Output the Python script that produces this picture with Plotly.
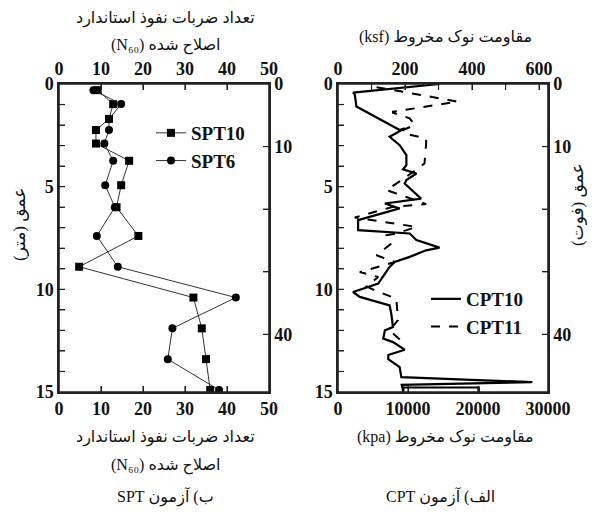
import plotly.graph_objects as go

# ---------------- data ----------------
spt_depth_m = [0.3, 0.98, 1.7, 2.24, 2.9, 3.74, 4.93, 6.0, 7.4, 8.9, 10.4, 11.9, 13.4, 14.9]
spt10_n60 = [9.2, 12.9, 11.9, 8.8, 8.8, 16.7, 14.8, 13.7, 18.9, 4.8, 32.0, 34.0, 35.0, 36.0]
spt6_n60 = [8.2, 14.8, 11.9, 11.9, 10.8, 12.9, 11.0, 13.3, 9.0, 14.0, 42.1, 27.0, 25.9, 38.1]

cpt10_depth_m = [0, 0.42, 0.5, 1.1, 2.24, 2.16, 2.57, 2.98, 3.46, 3.95, 4.16, 4.36, 4.68, 4.85,
                 5.58, 5.82, 6.06, 6.63, 7.12, 7.2, 7.28, 7.6, 7.97, 8.1, 8.42, 8.67, 8.91, 9.48,
                 9.72, 10.13, 10.37, 10.78, 11.19, 11.84, 12.0, 12.4, 12.57, 12.94, 13.2, 13.4,
                 13.79, 14.28, 14.52, 14.65, 15.0, 14.78, 14.78, 15.0]
cpt10_qc_ksf = [303, 45, 50, 55, 184, 199, 154, 184, 204, 204, 194, 234, 204, 199,
                248, 140, 184, 60, 60, 145, 214, 234, 303, 263, 214, 169, 154, 130,
                120, 45, 65, 154, 159, 164, 140, 135, 164, 199, 150, 150,
                184, 189, 580, 190, 195, 195, 420, 420]

cpt11_depth_m = [0.16, 0.29, 0.86, 1.35, 1.4, 1.67, 2.0, 2.24, 2.4, 2.65, 2.9, 3.87, 4.52, 5.17,
                 5.5, 5.85, 5.98, 6.5, 6.96, 7.28, 7.37, 7.77, 8.34, 8.67, 9.16, 9.4, 9.85,
                 10.05, 10.46, 11.5, 12.0, 12.73]
cpt11_qc_ksf = [115, 164, 357, 164, 164, 214, 229, 194, 194, 263, 263, 258, 204, 145,
                204, 263, 164, 50, 234, 174, 145, 159, 115, 169, 65, 120, 85,
                110, 174, 179, 154, 204]

n60_ticks = [0, 10, 20, 30, 40, 50]
n60_labels = ["0", "10", "20", "30", "40", "50"]
ksf_ticks = [0, 100, 200, 300, 400, 500, 600]
ksf_labels = ["0", "", "200", "", "400", "", "600"]
kpa_ticks = [0, 10000, 20000, 30000]
kpa_labels = ["0", "10000", "20000", "30000"]
depth_m_ticks = list(range(0, 16))
depth_m_labels = [str(v) if v % 5 == 0 else "" for v in depth_m_ticks]
depth_ft_ticks = [0, 10, 20, 30, 40]
depth_ft_labels = ["0", "10", "", "", "40"]

KSF_TO_KPA = 47.88
FT = 0.3048
DEPTH_MAX = 15
N60_MAX = 50
KPA_MAX = 30000
KSF_MAX = KPA_MAX / KSF_TO_KPA
FT_MAX = DEPTH_MAX / FT

OFF = 8
W, H = 595 - 2 * OFF, 516 - 2 * OFF
def px(x): return (x - OFF) / W
def py(y): return 1 - (y - OFF) / H

def bold(labels):
    return ["<b>%s</b>" % t if t else "" for t in labels]

NUM_FONT = dict(family="Liberation Serif, Times New Roman, serif", size=18, color="#111")
FA_FONT = dict(family="Liberation Serif, DejaVu Sans, serif", size=16, color="#111")
LINE_C = "#222222"
RLE, PDF = "\u202B", "\u202C"

fig = go.Figure()

fig.add_trace(go.Scatter(x=spt10_n60, y=spt_depth_m, name="<b>SPT10</b>", mode="lines+markers",
                         line=dict(color="#333", width=1),
                         marker=dict(symbol="square", size=8, color="#000"),
                         xaxis="x", yaxis="y", legend="legend", cliponaxis=False))
fig.add_trace(go.Scatter(x=spt6_n60, y=spt_depth_m, name="<b>SPT6</b>", mode="lines+markers",
                         line=dict(color="#333", width=1),
                         marker=dict(symbol="circle", size=8, color="#000"),
                         xaxis="x", yaxis="y", legend="legend", cliponaxis=False))
fig.add_trace(go.Scatter(x=cpt10_qc_ksf, y=cpt10_depth_m, name="<b>CPT10</b>", mode="lines",
                         line=dict(color="#000", width=2.2),
                         xaxis="x3", yaxis="y3", legend="legend2"))
fig.add_trace(go.Scatter(x=cpt11_qc_ksf, y=cpt11_depth_m, name="<b>CPT11</b>", mode="lines",
                         line=dict(color="#000", width=2, dash="dash"),
                         xaxis="x3", yaxis="y3", legend="legend2"))

# ---- panel frames and inside tick marks (built from the axis ranges / tick arrays) ----
PANEL_W, PANEL_H, TICK_PX = 210, 308, 6

def seg_trace(name, xs, ys, xa, ya, width):
    fig.add_trace(go.Scatter(x=xs, y=ys, xaxis=xa, yaxis=ya, mode="lines", name=name,
                             legend="legend3", showlegend=True,
                             line=dict(color=LINE_C, width=width), cliponaxis=False))

def frame(name, xmax, ymax, xa, ya):
    seg_trace(name, [0, xmax, xmax, 0, 0], [0, 0, ymax, ymax, 0], xa, ya, 1.6)

def xticks(name, vals, xmax, xa, ya, ymax, at_top):
    tl = TICK_PX / PANEL_H * ymax
    y0, y1 = (0, tl) if at_top else (ymax, ymax - tl)
    xs, ys = [], []
    for v in vals:
        if 0 < v < xmax:
            xs += [v, v, None]; ys += [y0, y1, None]
    seg_trace(name, xs, ys, xa, ya, 1.2)

def yticks(name, vals, ymax, xa, ya, xmax, at_right):
    tl = TICK_PX / PANEL_W * xmax
    x0, x1 = (xmax, xmax - tl) if at_right else (0, tl)
    xs, ys = [], []
    for v in vals:
        if 0 < v < ymax:
            xs += [x0, x1, None]; ys += [v, v, None]
    seg_trace(name, xs, ys, xa, ya, 1.2)

frame("frame SPT", N60_MAX, DEPTH_MAX, "x", "y")
xticks("ticks N60 bottom", n60_ticks, N60_MAX, "x", "y", DEPTH_MAX, at_top=False)
xticks("ticks N60 top", n60_ticks, N60_MAX, "x2", "y", DEPTH_MAX, at_top=True)
yticks("ticks m SPT", depth_m_ticks, DEPTH_MAX, "x", "y", N60_MAX, at_right=False)
yticks("ticks ft SPT", depth_ft_ticks, FT_MAX, "x", "y2", N60_MAX, at_right=True)
frame("frame CPT", KSF_MAX, DEPTH_MAX, "x3", "y3")
xticks("ticks ksf", ksf_ticks, KSF_MAX, "x3", "y3", DEPTH_MAX, at_top=True)
xticks("ticks kpa", kpa_ticks, KPA_MAX, "x4", "y3", DEPTH_MAX, at_top=False)
yticks("ticks m CPT", depth_m_ticks, DEPTH_MAX, "x3", "y3", KSF_MAX, at_right=False)
yticks("ticks ft CPT", depth_ft_ticks, FT_MAX, "x3", "y4", KSF_MAX, at_right=True)

common = dict(showline=True, linecolor=LINE_C, linewidth=1.5, ticks="inside", ticklen=6,
              tickcolor=LINE_C, tickwidth=1.2, tickfont=NUM_FONT, showgrid=False, zeroline=False,
              automargin=False)

dl = [px(59), px(269)]
dr = [px(338), px(548)]
dy = [py(392), py(84)]

fig.update_layout(
    template="simple_white",
    width=W, height=H, margin=dict(l=0, r=0, t=0, b=0),
    paper_bgcolor="white", plot_bgcolor="rgba(0,0,0,0)",
    xaxis=dict(domain=dl, anchor="y", side="bottom", range=[0, N60_MAX], tickvals=n60_ticks,
               ticktext=bold(n60_labels), **common),
    xaxis2=dict(domain=dl, anchor="y", overlaying="x", side="top", range=[0, N60_MAX],
                tickvals=n60_ticks, ticktext=bold(n60_labels), **common),
    yaxis=dict(domain=dy, anchor="x", range=[DEPTH_MAX, 0], tickvals=depth_m_ticks,
               ticktext=bold(depth_m_labels), **common),
    yaxis2=dict(domain=dy, anchor="x", overlaying="y", side="right",
                range=[FT_MAX, 0], tickvals=depth_ft_ticks,
                ticktext=bold(depth_ft_labels), **common),
    xaxis3=dict(domain=dr, anchor="y3", side="top", range=[0, KSF_MAX], tickvals=ksf_ticks,
                ticktext=bold(ksf_labels), **common),
    xaxis4=dict(domain=dr, anchor="y3", overlaying="x3", side="bottom", range=[0, KPA_MAX],
                tickvals=kpa_ticks, ticktext=bold(kpa_labels), **common),
    yaxis3=dict(domain=dy, anchor="x3", range=[DEPTH_MAX, 0], tickvals=depth_m_ticks,
                ticktext=bold(depth_m_labels), **common),
    yaxis4=dict(domain=dy, anchor="x3", overlaying="y3", side="right",
                range=[FT_MAX, 0], tickvals=depth_ft_ticks,
                ticktext=bold(depth_ft_labels), **common),
    legend=dict(x=px(151), y=py(114), xanchor="left", yanchor="top", bgcolor="rgba(0,0,0,0)",
                font=dict(family="Liberation Serif, serif", size=19, color="#111"),
                tracegroupgap=0),
    legend2=dict(x=px(426), y=py(280), xanchor="left", yanchor="top", bgcolor="rgba(0,0,0,0)",
                 font=dict(family="Liberation Serif, serif", size=19, color="#111"),
                 tracegroupgap=0),
    legend3=dict(visible=False),
    showlegend=True,
)

ann = [
    ("تعداد ضربات نفوذ استاندارد", 165, 18, 0),
    ("اصلاح شده (N₆₀)", 165, 46, 0),
    ("مقاومت نوک مخروط (ksf)", 445, 37, 0),
    ("تعداد ضربات نفوذ استاندارد", 165, 437, 0),
    ("اصلاح شده (N₆₀)", 165, 465, 0),
    ("مقاومت نوک مخروط (kpa)", 445, 437, 0),
    ("ب) آزمون SPT", 165, 497, 0),
    ("الف) آزمون CPT", 440, 497, 0),
    ("عمق (متر)", 20, 225, -90),
    ("عمق (فوت)", 577, 205, -90),
]
for text, x, y, rot in ann:
    f = dict(FA_FONT)
    if rot:
        f["size"] = 17
    fig.add_annotation(text=RLE + text + PDF, x=px(x), y=py(y), xref="paper", yref="paper",
                       showarrow=False, textangle=rot, font=f, xanchor="center", yanchor="middle")

fig.write_html("out.html")
